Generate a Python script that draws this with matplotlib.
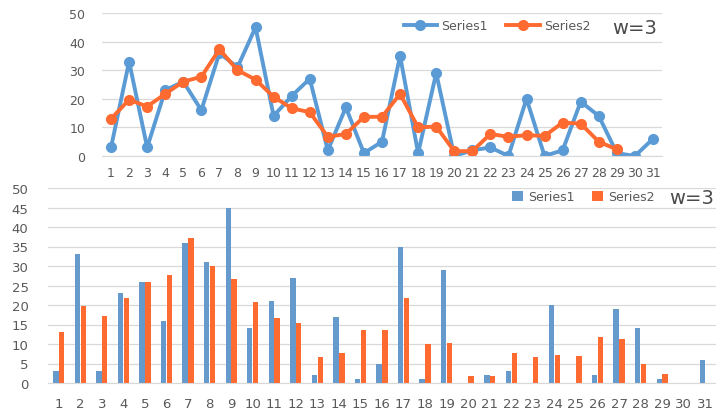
import matplotlib.pyplot as plt
import numpy as np

# values
categories = list(range(1, 32))
series1 = [3, 33, 3, 23, 26, 16, 36, 31, 45, 14, 21, 27, 2, 17, 1, 5,
           35, 1, 29, 0, 2, 3, 0, 20, 0, 2, 19, 14, 1, 0, 6]
# series2 stops at point 29 (moving window w=3)
series2 = [13.0, 19.7, 17.3, 21.7, 26.0, 27.7, 37.3, 30.0, 26.7, 20.7,
           16.7, 15.3, 6.7, 7.7, 13.7, 13.7, 21.7, 10.0, 10.3, 1.7, 1.7,
           7.7, 6.7, 7.3, 7.0, 11.7, 11.3, 5.0, 2.3]
window_label = "w=3"

BLUE = "#5b9bd5"
ORANGE = "#ff6a30"
GRID = "#d9d9d9"
TEXT = "#595959"

W, H = 716, 414
fig = plt.figure(figsize=(W / 100, H / 100), dpi=100)


def px_axes(left, top, right, bottom):
    return fig.add_axes([left / W, 1 - bottom / H, (right - left) / W, (bottom - top) / H])


def style(ax, yticks, xpad, ypad, fs):
    ax.set_ylim(0, 50)
    ax.set_yticks(yticks)
    ax.set_xlim(-0.5, len(categories) - 0.5)
    ax.set_xticks(np.arange(len(categories)))
    ax.set_xticklabels([str(c) for c in categories])
    ax.grid(axis="y", color=GRID, lw=0.9)
    ax.set_axisbelow(True)
    for side in ("top", "right", "left"):
        ax.spines[side].set_visible(False)
    ax.spines["bottom"].set_color(GRID)
    ax.tick_params(length=0, labelcolor=TEXT, labelsize=fs)
    ax.tick_params(axis="x", pad=xpad)
    ax.tick_params(axis="y", pad=ypad)


x = np.arange(len(categories))

# top: line chart
ax1 = px_axes(102, 14, 662, 157)
ax1.plot(x, series1, color=BLUE, lw=2.8, marker="o", ms=7, label="Series1")
ax1.plot(x[:len(series2)], series2, color=ORANGE, lw=2.8, marker="o", ms=7, label="Series2")
style(ax1, range(0, 51, 10), 7, 12, 9)
ax1.legend(loc="center", bbox_to_anchor=(497 / W, 1 - 27 / H), bbox_transform=fig.transFigure,
           ncol=2, frameon=False, fontsize=9, labelcolor=TEXT, handlelength=2.7,
           columnspacing=1.5, handletextpad=0.3, borderpad=0)
fig.text(612 / W, 1 - 28 / H, window_label, fontsize=14, color="#4a4a4a", va="center")

# bottom: bar chart
ax2 = px_axes(48, 189, 716, 384)
bw = 0.25
ax2.bar(x - 0.135, series1, width=bw, color="#6699cc", label="Series1")
ax2.bar(x[:len(series2)] + 0.135, series2, width=bw, color=ORANGE, label="Series2")
style(ax2, range(0, 51, 5), 10, 14, 9.5)
ax2.legend(loc="center", bbox_to_anchor=(583 / W, 1 - 198 / H), bbox_transform=fig.transFigure,
           ncol=2, frameon=False, fontsize=9, labelcolor=TEXT, handlelength=0.9,
           handleheight=0.9, columnspacing=1.4, handletextpad=0.4, borderpad=0)
fig.text(669 / W, 1 - 199 / H, window_label, fontsize=14, color="#4a4a4a", va="center")

fig.savefig("out.png", dpi=100)
